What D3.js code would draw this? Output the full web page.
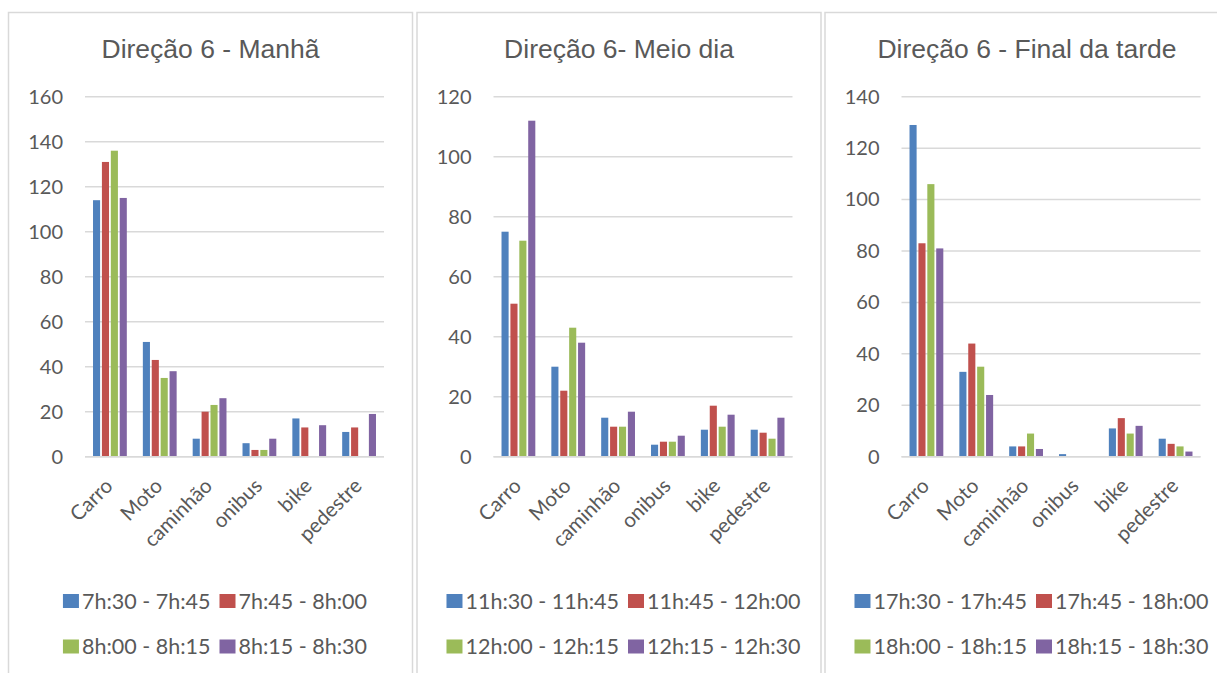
<!DOCTYPE html>
<html>
<head>
<meta charset="utf-8">
<script src="https://cdn.jsdelivr.net/npm/d3@7"></script>
<style>
  html, body { margin: 0; padding: 0; background: #fff; }
  svg { display: block; }
</style>
</head>
<body>
<svg id="chart" width="1217" height="673"></svg>
<script>
// Vehicle counts per 15-minute interval, direction 6
const categories = ["Carro", "Moto", "caminhão", "onibus", "bike", "pedestre"];

const titleManha = "Direção 6 - Manhã";
const intervalsManha = ["7h:30 - 7h:45", "7h:45 - 8h:00", "8h:00 - 8h:15", "8h:15 - 8h:30"];
const manha1 = [114, 51, 8, 6, 17, 11];
const manha2 = [131, 43, 20, 3, 13, 13];
const manha3 = [136, 35, 23, 3, 0, 0];
const manha4 = [115, 38, 26, 8, 14, 19];
const ticksManha = [0, 20, 40, 60, 80, 100, 120, 140, 160];

const titleMeioDia = "Direção 6- Meio dia";
const intervalsMeioDia = ["11h:30 - 11h:45", "11h:45 - 12h:00", "12h:00 - 12h:15", "12h:15 - 12h:30"];
const meioDia1 = [75, 30, 13, 4, 9, 9];
const meioDia2 = [51, 22, 10, 5, 17, 8];
const meioDia3 = [72, 43, 10, 5, 10, 6];
const meioDia4 = [112, 38, 15, 7, 14, 13];
const ticksMeioDia = [0, 20, 40, 60, 80, 100, 120];

const titleTarde = "Direção 6 - Final da tarde";
const intervalsTarde = ["17h:30 - 17h:45", "17h:45 - 18h:00", "18h:00 - 18h:15", "18h:15 - 18h:30"];
const tarde1 = [129, 33, 4, 1, 11, 7];
const tarde2 = [83, 44, 4, 0, 15, 5];
const tarde3 = [106, 35, 9, 0, 9, 4];
const tarde4 = [81, 24, 3, 0, 12, 2];
const ticksTarde = [0, 20, 40, 60, 80, 100, 120, 140];

const colors = ["#4F81BD", "#C0504D", "#9BBB59", "#8064A2"];

const panels = [
  { left: 8.5,  title: titleManha,   intervals: intervalsManha,   series: [manha1, manha2, manha3, manha4],         ticks: ticksManha },
  { left: 417,  title: titleMeioDia, intervals: intervalsMeioDia, series: [meioDia1, meioDia2, meioDia3, meioDia4], ticks: ticksMeioDia },
  { left: 825,  title: titleTarde,   intervals: intervalsTarde,   series: [tarde1, tarde2, tarde3, tarde4],         ticks: ticksTarde }
];

const svg = d3.select("#chart");
const textColor = "#595959";
const gridColor = "#d9d9d9";
const bodyFont = "Lato, 'Open Sans', sans-serif";
const titleFont = "'Liberation Sans', Arial, sans-serif";

const panelW = 404;
const plotTop = 96.7, plotBottom = 456.7;
const plotOffset = 76.5, plotW = 299;

panels.forEach(p => {
  const g = svg.append("g");

  // panel frame
  g.append("rect")
    .attr("x", p.left).attr("y", 12.5)
    .attr("width", panelW).attr("height", 700)
    .attr("fill", "#fff").attr("stroke", gridColor).attr("stroke-width", 1.5);

  // title
  g.append("text")
    .attr("x", p.left + panelW / 2).attr("y", 58)
    .attr("text-anchor", "middle")
    .attr("font-family", titleFont).attr("font-size", 26.5)
    .attr("fill", textColor)
    .text(p.title);

  const x0 = p.left + plotOffset, x1 = x0 + plotW;
  const yMax = d3.max(p.ticks);
  const y = d3.scaleLinear().domain([0, yMax]).range([plotBottom, plotTop]);
  const x = d3.scaleBand().domain(categories).range([x0, x1]).padding(0);

  // gridlines
  g.append("g").selectAll("line").data(p.ticks).join("line")
    .attr("x1", x0).attr("x2", x1)
    .attr("y1", d => y(d)).attr("y2", d => y(d))
    .attr("stroke", gridColor).attr("stroke-width", 1.5);

  // y axis labels
  const yAxis = d3.axisLeft(y).tickValues(p.ticks).tickSize(0).tickPadding(22);
  const ya = g.append("g").attr("transform", `translate(${x0},0)`).call(yAxis);
  ya.select(".domain").remove();
  ya.selectAll("text")
    .attr("font-family", bodyFont).attr("font-size", 20)
    .attr("fill", textColor);

  // bars
  const groupW = 35.6;
  const inner = d3.scaleBand().domain(d3.range(4)).range([0, groupW]).padding(0);
  p.series.forEach((vals, si) => {
    g.append("g").selectAll("rect").data(vals).join("rect")
      .attr("x", (d, i) => x(categories[i]) + (x.bandwidth() - groupW) / 2 + inner(si) + 0.9)
      .attr("width", inner.bandwidth() - 1.8)
      .attr("y", d => y(d))
      .attr("height", d => y(0) - y(d))
      .attr("fill", colors[si]);
  });

  // baseline
  g.append("line")
    .attr("x1", x0).attr("x2", x1)
    .attr("y1", y(0)).attr("y2", y(0))
    .attr("stroke", gridColor).attr("stroke-width", 1.5);

  // category labels, rotated
  g.append("g").selectAll("text").data(categories).join("text")
    .attr("transform", d => `translate(${x(d) + x.bandwidth() / 2 + 4},${plotBottom + 30.5}) rotate(-45)`)
    .attr("text-anchor", "end")
    .attr("font-family", bodyFont).attr("font-size", 20.5)
    .attr("fill", textColor)
    .text(d => d);

  // legend in two rows, two columns
  const legFont = 21.5;
  const keyW = 16, keyH = 14, keyGap = 3, colGap = 9;
  const tmp = g.append("text").attr("font-family", bodyFont).attr("font-size", legFont);
  const widths = p.intervals.map(t => { tmp.text(t); return tmp.node().getComputedTextLength(); });
  tmp.remove();
  const colW = [Math.max(widths[0], widths[2]), Math.max(widths[1], widths[3])].map(w => keyW + keyGap + w);
  const totalW = colW[0] + colGap + colW[1];
  const lx = p.left + panelW / 2 + 4.5 - totalW / 2;
  const rowsY = [601, 646.5];
  p.intervals.forEach((t, i) => {
    const col = i % 2, row = Math.floor(i / 2);
    const ix = lx + (col === 0 ? 0 : colW[0] + colGap);
    const iy = rowsY[row];
    g.append("rect")
      .attr("x", ix).attr("y", iy - keyH / 2)
      .attr("width", keyW).attr("height", keyH)
      .attr("fill", colors[i]);
    g.append("text")
      .attr("x", ix + keyW + keyGap).attr("y", iy)
      .attr("dy", "0.35em")
      .attr("font-family", bodyFont).attr("font-size", legFont)
      .attr("fill", textColor)
      .text(t);
  });
});
</script>
</body>
</html>
